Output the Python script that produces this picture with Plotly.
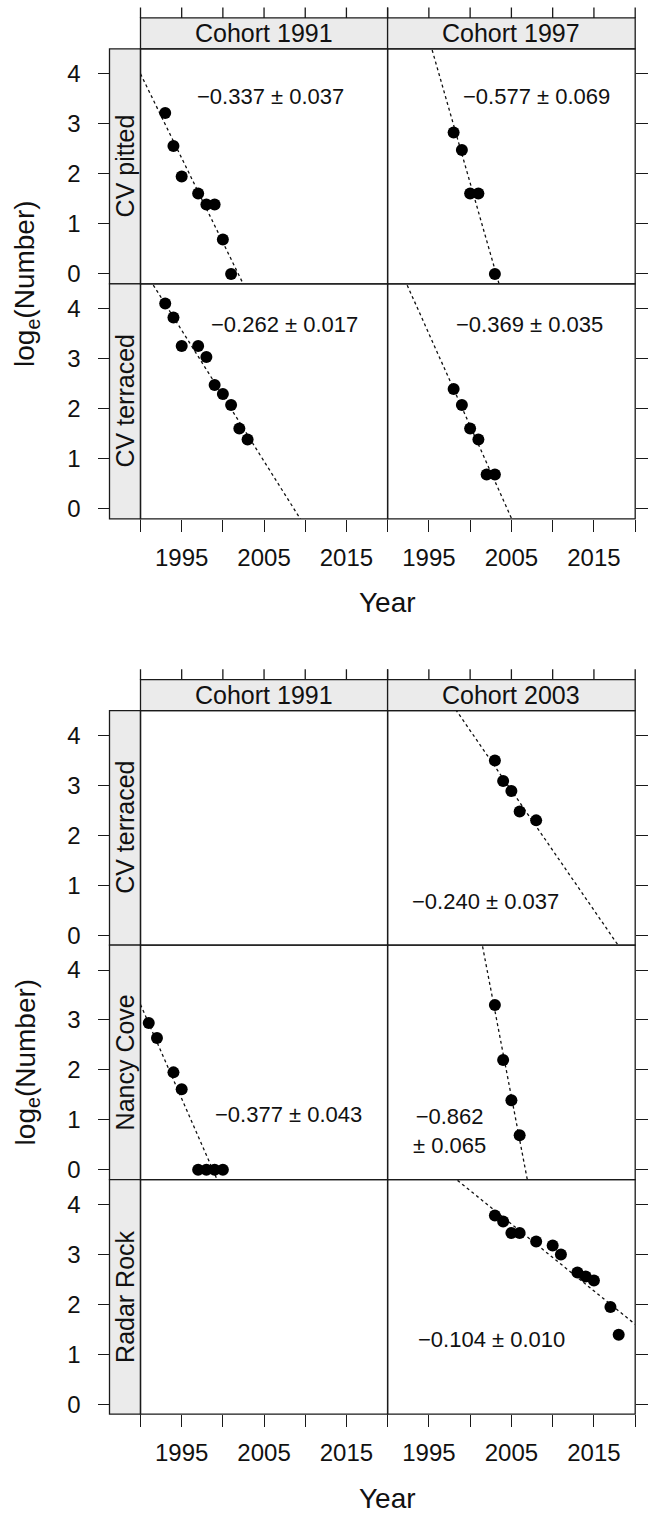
import plotly.graph_objects as go

# ---------------- data ----------------
# log_e(Number) by year for each site x cohort panel
cvp91_year = [1993, 1994, 1995, 1997, 1998, 1999, 2000, 2001]
cvp91_log = [3.22, 2.56, 1.95, 1.61, 1.39, 1.39, 0.69, 0.00]

cvp97_year = [1998, 1999, 2000, 2001, 2003]
cvp97_log = [2.83, 2.48, 1.61, 1.61, 0.00]

cvt91_year = [1993, 1994, 1995, 1997, 1998, 1999, 2000, 2001, 2002, 2003]
cvt91_log = [4.11, 3.83, 3.26, 3.26, 3.04, 2.48, 2.30, 2.08, 1.61, 1.39]

cvt97_year = [1998, 1999, 2000, 2001, 2002, 2003]
cvt97_log = [2.40, 2.08, 1.61, 1.39, 0.69, 0.69]

cvt03_year = [2003, 2004, 2005, 2006, 2008]
cvt03_log = [3.50, 3.09, 2.89, 2.48, 2.30]

nc91_year = [1991, 1992, 1994, 1995, 1997, 1998, 1999, 2000]
nc91_log = [2.94, 2.64, 1.95, 1.61, 0.00, 0.00, 0.00, 0.00]

nc03_year = [2003, 2004, 2005, 2006]
nc03_log = [3.30, 2.20, 1.39, 0.69]

rr03_year = [2003, 2004, 2005, 2006, 2008, 2010, 2011, 2013, 2014, 2015, 2017, 2018]
rr03_log = [3.78, 3.66, 3.43, 3.43, 3.26, 3.18, 3.00, 2.64, 2.56, 2.48, 1.95, 1.39]

# fitted lines: slope per year and value at year 2000
fit_slope = [-0.337, -0.577, -0.262, -0.369, -0.240, -0.377, -0.862, -0.134]
fit_at2000 = [0.632, 1.822, 2.264, 1.661, 4.101, -0.460, 5.772, 4.281]

# slope labels and their positions (year, log value)
slope_text = ["−0.337 ± 0.037", "−0.577 ± 0.069", "−0.262 ± 0.017", "−0.369 ± 0.035",
              "−0.240 ± 0.037", "−0.377 ± 0.043", "−0.862<br>± 0.065", "−0.104 ± 0.010"]
slope_text_year = [2005.75, 2008.1, 2007.5, 2007.25, 2001.85, 2008.0, 1997.55, 2002.6]
slope_text_val = [3.54, 3.54, 3.68, 3.68, 0.68, 1.11, 0.77, 1.29]

top_cols = ["Cohort 1991", "Cohort 1997"]
top_rows = ["CV pitted", "CV terraced"]
bot_cols = ["Cohort 1991", "Cohort 2003"]
bot_rows = ["CV terraced", "Nancy Cove", "Radar Rock"]

x_tick0, x_dtick, x_labelstep = 1995, 5, 2      # ticks every 5 y, labels 1995/2005/2015
x_top_ticks = [1990, 1995, 2000, 2005, 2010, 2015, 2020]
y_tickvals = [0, 1, 2, 3, 4]

# panel contents: (x, y, fit index) or None for empty panels
panel_data = [
    (cvp91_year, cvp91_log, 0), (cvp97_year, cvp97_log, 1),
    (cvt91_year, cvt91_log, 2), (cvt97_year, cvt97_log, 3),
    None, (cvt03_year, cvt03_log, 4),
    (nc91_year, nc91_log, 5), (nc03_year, nc03_log, 6),
    None, (rr03_year, rr03_log, 7),
]

# ---------------- layout geometry (pixels) ----------------
W, H = 648, 1515
FONT = "Liberation Sans, Arial, Helvetica, sans-serif"
INK = "#1a1a1a"
STRIP = "#ebebeb"
col_px = [(140.5, 387.6), (387.6, 635.2)]
strip_w = 31.0
strip_h = 31.0
TICK = 12
figures = [
    dict(strip_top=18, rows=[(49, 284.5), (284.5, 520)], rlab=top_rows, clab=top_cols,
         ytitle_y=284.5, xtitle_y=604),
    dict(strip_top=682, rows=[(712, 947), (947, 1182), (1182, 1417)], rlab=bot_rows, clab=bot_cols,
         ytitle_y=1064.5, xtitle_y=1501),
]

XR = [1990, 2020]
YR = [-0.2, 4.5]

fig = go.Figure()
layout = {}
shapes = []
annotations = []

idx = 0
for f in figures:
    nrows = len(f["rows"])
    for r, (T, B) in enumerate(f["rows"]):
        for c, (L, R) in enumerate(col_px):
            idx += 1
            xs = "x" if idx == 1 else f"x{idx}"
            ys = "y" if idx == 1 else f"y{idx}"
            xa = "xaxis" if idx == 1 else f"xaxis{idx}"
            ya = "yaxis" if idx == 1 else f"yaxis{idx}"
            xdom = [L / W, R / W]
            ydom = [1 - B / H, 1 - T / H]
            xax = dict(domain=xdom, range=XR, showgrid=False, zeroline=False, showline=False,
                       tickmode="linear", tick0=x_tick0, dtick=x_dtick, ticklabelstep=x_labelstep,
                       tickcolor=INK, tickwidth=1.3, ticklen=TICK,
                       tickfont=dict(family=FONT, size=24, color="#111"),
                       fixedrange=True, anchor=ys)
            if r == nrows - 1:
                xax.update(side="bottom", ticks="outside", showticklabels=True, ticklabelstandoff=5)
            else:
                xax.update(ticks="", showticklabels=False)
            yax = dict(domain=ydom, range=YR, showgrid=False, zeroline=False, showline=False,
                       tickvals=y_tickvals, tickcolor=INK, tickwidth=1.3,
                       ticklen=TICK, ticks="outside", tickfont=dict(family=FONT, size=24, color="#111"),
                       fixedrange=True)
            if c == 0:
                yax.update(anchor="free", position=(L - strip_w) / W, side="left",
                           showticklabels=True, ticklabelstandoff=12)
            else:
                yax.update(anchor=xs, side="right", showticklabels=False)
            layout[xa] = xax
            layout[ya] = yax

            # dummy trace so empty panels still get axes
            fig.add_trace(go.Scatter(x=[None], y=[None], xaxis=xs, yaxis=ys, mode="markers",
                                     showlegend=False, hoverinfo="skip"))

            pd_ = panel_data[idx - 1]
            if pd_ is not None:
                px_, py_, k = pd_
                lx = XR
                ly = [fit_at2000[k] + fit_slope[k] * (v - 2000) for v in lx]
                fig.add_trace(go.Scatter(x=lx, y=ly, xaxis=xs, yaxis=ys, mode="lines",
                                         line=dict(color="#111", width=1.3, dash="3px,3px"),
                                         showlegend=False, hoverinfo="skip"))
                fig.add_trace(go.Scatter(x=px_, y=py_, xaxis=xs, yaxis=ys, mode="markers",
                                         marker=dict(color="black", size=12, line=dict(width=0)),
                                         showlegend=False, cliponaxis=False))
                annotations.append(dict(x=slope_text_year[k], y=slope_text_val[k], xref=xs, yref=ys,
                                        text=slope_text[k], showarrow=False,
                                        font=dict(family=FONT, size=22, color="#111"),
                                        xanchor="center", yanchor="middle"))

            ph = B - T
            pw = R - L
            # top strip
            if r == 0:
                shapes.append(dict(type="rect", xref=f"{xs} domain", yref=f"{ys} domain",
                                   x0=0, x1=1, y0=1, y1=1 + strip_h / ph,
                                   fillcolor=STRIP, line=dict(color=INK, width=1.3), layer="below"))
                annotations.append(dict(x=0.5, y=1 + strip_h / 2 / ph, xref=f"{xs} domain",
                                        yref=f"{ys} domain", text=f["clab"][c], showarrow=False,
                                        font=dict(family=FONT, size=25, color="#111"),
                                        xanchor="center", yanchor="middle"))
                # tick marks standing on the strip's top edge, placed by the panel's x scale
                for tv in x_top_ticks:
                    annotations.append(dict(x=tv, xref=xs, y=1 + strip_h / ph, yref=f"{ys} domain",
                                            text="", showarrow=True, arrowhead=0, arrowwidth=1.3,
                                            arrowcolor=INK, ax=0, ay=-TICK, axref="pixel",
                                            ayref="pixel", standoff=0, startstandoff=0))
            # left strip
            if c == 0:
                shapes.append(dict(type="rect", xref=f"{xs} domain", yref=f"{ys} domain",
                                   x0=-strip_w / pw, x1=0, y0=0, y1=1,
                                   fillcolor=STRIP, line=dict(color=INK, width=1.3), layer="below"))
                annotations.append(dict(x=-strip_w / 2 / pw, y=0.5, xref=f"{xs} domain",
                                        yref=f"{ys} domain", text=f["rlab"][r], showarrow=False,
                                        textangle=-90,
                                        font=dict(family=FONT, size=25, color="#111"),
                                        xanchor="center", yanchor="middle"))
            # panel frame
            shapes.append(dict(type="rect", xref=f"{xs} domain", yref=f"{ys} domain",
                               x0=0, x1=1, y0=0, y1=1, line=dict(color=INK, width=1.3),
                               fillcolor="rgba(0,0,0,0)", layer="above"))

    # axis titles
    annotations.append(dict(x=27 / W, y=1 - f["ytitle_y"] / H, xref="paper", yref="paper",
                            text="log<sub>e</sub>(Number)", showarrow=False, textangle=-90,
                            font=dict(family=FONT, size=28, color="#111"),
                            xanchor="center", yanchor="middle"))
    annotations.append(dict(x=(col_px[0][0] + col_px[1][1]) / 2 / W, y=1 - f["xtitle_y"] / H,
                            xref="paper", yref="paper", text="Year", showarrow=False,
                            font=dict(family=FONT, size=28, color="#111"),
                            xanchor="center", yanchor="middle"))

fig.update_layout(
    width=W, height=H,
    margin=dict(l=0, r=0, t=0, b=0),
    paper_bgcolor="white", plot_bgcolor="rgba(0,0,0,0)",
    showlegend=False,
    shapes=shapes, annotations=annotations,
    **layout,
)

fig.write_html("out.html", config={"displayModeBar": False})
